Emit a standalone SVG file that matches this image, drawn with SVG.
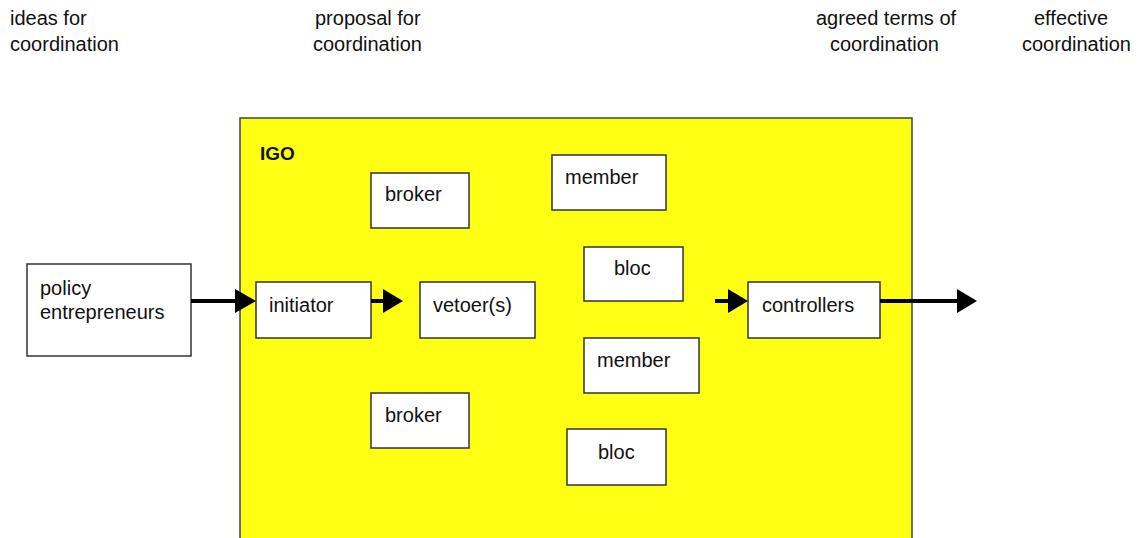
<svg xmlns="http://www.w3.org/2000/svg" width="1138" height="538" viewBox="0 0 1138 538">
<style>
text{font-family:"Liberation Sans",Arial,sans-serif;font-size:20px;fill:#111}
.box{fill:#fff;stroke:#333;stroke-width:1.5}
.ln{stroke:#000;stroke-width:4;fill:none}
.ah{fill:#000}
</style>
<rect width="1138" height="538" fill="#fff"/>
<g id="labels">
<text x="10" y="25">ideas for</text><text x="10" y="51">coordination</text>
<text x="315" y="25">proposal for</text><text x="313" y="51">coordination</text>
<text x="816" y="25">agreed terms of</text><text x="830" y="51">coordination</text>
<text x="1034" y="25">effective</text><text x="1022" y="51">coordination</text>
</g>
<g id="igo">
<rect x="240" y="118" width="672" height="430" fill="#ffff14" stroke="#444" stroke-width="1.5"/>
<text x="260" y="160" style="font-weight:bold;font-size:19px">IGO</text>
</g>
<g id="policy"><rect class="box" x="27" y="264" width="164" height="92"/><text x="40" y="295">policy</text><text x="40" y="319">entrepreneurs</text></g>
<g id="initiator"><rect class="box" x="256" y="282" width="115" height="56"/><text x="269" y="312">initiator</text></g>
<g id="vetoer"><rect class="box" x="420" y="282" width="115" height="56"/><text x="433" y="312">vetoer(s)</text></g>
<g id="broker1"><rect class="box" x="371" y="173" width="98" height="55"/><text x="385" y="201">broker</text></g>
<g id="member1"><rect class="box" x="552" y="155" width="114" height="55"/><text x="565" y="184">member</text></g>
<g id="bloc1"><rect class="box" x="584" y="247" width="99" height="54"/><text x="614" y="275">bloc</text></g>
<g id="member2"><rect class="box" x="584" y="338" width="115" height="55"/><text x="597" y="367">member</text></g>
<g id="broker2"><rect class="box" x="371" y="393" width="98" height="55"/><text x="385" y="422">broker</text></g>
<g id="bloc2"><rect class="box" x="567" y="429" width="99" height="56"/><text x="598" y="459">bloc</text></g>
<g id="controllers"><rect class="box" x="748" y="282" width="132" height="56"/><text x="762" y="312">controllers</text></g>
<g id="connectors">
<line class="ln" x1="191" y1="301" x2="237" y2="301"/><polygon class="ah" points="235,289 256,301 235,313"/>
<line class="ln" x1="371" y1="301" x2="385" y2="301"/><polygon class="ah" points="383,289 403,301 383,313"/>
<line class="ln" x1="715" y1="301" x2="730" y2="301"/><polygon class="ah" points="728,289 748,301 728,313"/>
<line class="ln" x1="880" y1="301" x2="959" y2="301"/><polygon class="ah" points="957,289 977,301 957,313"/>
</g>
</svg>
